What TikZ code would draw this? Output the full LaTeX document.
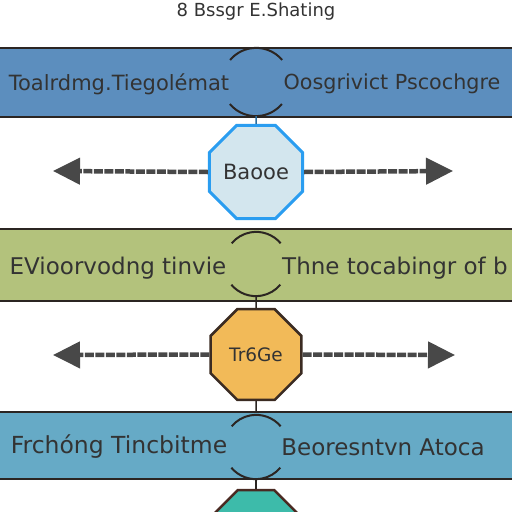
\documentclass[tikz,border=0pt]{standalone}
\usepackage{fontspec}
\setmainfont{DejaVu Sans}
\usetikzlibrary{shapes.geometric,arrows.meta}
\definecolor{bandA}{HTML}{5C8EBE}
\definecolor{bandB}{HTML}{B3C27C}
\definecolor{bandC}{HTML}{66AAC6}
\definecolor{octAfill}{HTML}{D3E6EE}
\definecolor{octAline}{HTML}{2A9DF0}
\definecolor{octBfill}{HTML}{F2BA58}
\definecolor{octBline}{HTML}{3B2B22}
\definecolor{octCfill}{HTML}{3DBBAA}
\definecolor{octCline}{HTML}{4A2A22}
\definecolor{arrowgray}{HTML}{484848}
\definecolor{txt}{HTML}{333333}
\definecolor{edge}{HTML}{2B2522}
\tikzset{
  band/.style={fill=#1, draw=none, minimum width=512pt, inner sep=0pt},
  edgeline/.style={draw=edge, line width=2pt},
  bandtext/.style={text=txt, font=\fontsize{#1}{#1}\selectfont, inner sep=0pt},
  bandtext/.default=21,
  ring/.style={circle, draw=none, minimum size=#1, inner sep=0pt},
  ringarc/.style={draw=edge, line width=2pt},
  octo/.style={regular polygon, regular polygon sides=8, inner sep=0pt, text=txt},
  sidearrow/.style={draw=arrowgray, line width=4.5pt, dash pattern=on 9pt off 1.5pt, -{Triangle[length=27pt,width=26pt]}},
  link/.style={draw=edge, line width=1.5pt},
}
\begin{document}
\begin{tikzpicture}[x=1pt,y=-1pt]
\useasboundingbox (0,0) rectangle (512,512);
\clip (0,0) rectangle (512,512);
% title
\node[text=txt, font=\fontsize{18}{20}\selectfont] (title) at (256,12) {8 Bssgr E.Shating};
% band 1
\node[band=bandA, minimum height=69pt] (b1) at (256,82.5) {};
\draw[edgeline] (b1.north west) -- (b1.north east);
\draw[edgeline] (b1.south west) -- (b1.south east);
\node[bandtext=21] (t1l) at (119,84) {Toalrdmg.Tiegolémat};
\node[bandtext=20.7] (t1r) at (392,84) {Oosgrivict Pscochgre};
\node[ring=68pt] (r1) at (256,82) {};
\draw[ringarc] (r1.40) arc[start angle=40, end angle=140, radius=34pt];
\draw[ringarc] (r1.220) arc[start angle=220, end angle=320, radius=34pt];
% octagon 1
\node[octo, minimum size=95pt, fill=octAfill, draw=octAline, line width=3pt, font=\fontsize{21}{23}\selectfont] (o1) at (256,172) {Baooe};
\draw[link, draw=octAline!60!edge] (r1.south) -- (o1.north);
\coordinate (l1) at (53,171);
\coordinate (e1) at (453,171);
\draw[sidearrow] (o1.west) -- (l1);
\draw[sidearrow] (o1.east) -- (e1);
% band 2
\node[band=bandB, minimum height=72pt] (b2) at (256,265) {};
\draw[edgeline] (b2.north west) -- (b2.north east);
\draw[edgeline] (b2.south west) -- (b2.south east);
\node[bandtext=23] (t2l) at (118,268) {EVioorvodng tinvie};
\node[bandtext=23, anchor=west] (t2r) at (282,268) {Thne tocabingr of b};
\node[ring=64pt] (r2) at (256,264) {};
\draw[ringarc] (r2.40) arc[start angle=40, end angle=140, radius=32pt];
\draw[ringarc] (r2.220) arc[start angle=220, end angle=320, radius=32pt];
% octagon 2
\node[octo, minimum size=98pt, fill=octBfill, draw=octBline, line width=2.5pt, font=\fontsize{18.5}{21}\selectfont] (o2) at (256,354.5) {Tr6Ge};
\draw[link] (r2.south) -- (o2.north);
\coordinate (l2) at (53,355);
\coordinate (e2) at (455,355);
\draw[sidearrow] (o2.west) -- (l2);
\draw[sidearrow] (o2.east) -- (e2);
% band 3
\node[band=bandC, minimum height=67pt] (b3) at (256,445.5) {};
\draw[edgeline] (b3.north west) -- (b3.north east);
\draw[edgeline] (b3.south west) -- (b3.south east);
\draw[link] (o2.south) -- (b3.north);
\node[bandtext=23.5] (t3l) at (119,447) {Frchóng Tincbitme};
\node[bandtext=23] (t3r) at (383,447) {Beoresntvn Atoca};
\node[ring=64pt] (r3) at (256,447) {};
\draw[ringarc] (r3.40) arc[start angle=40, end angle=140, radius=32pt];
\draw[ringarc] (r3.220) arc[start angle=220, end angle=320, radius=32pt];
% octagon 3
\node[octo, minimum size=95pt, fill=octCfill, draw=octCline, line width=2.5pt] (o3) at (256,534) {};
\draw[link] (r3.south) -- (o3.north);
\end{tikzpicture}
\end{document}
